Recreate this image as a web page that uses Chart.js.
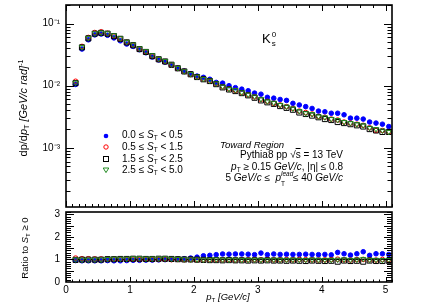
<!DOCTYPE html>
<html><head><meta charset="utf-8">
<script src="https://cdn.jsdelivr.net/npm/chart.js@4.4.1/dist/chart.umd.min.js"></script>
<style>
body{margin:0;background:#fff;width:436px;height:305px;overflow:hidden;position:relative;font-family:"Liberation Sans",Arial,sans-serif;color:#000}
canvas{position:absolute;left:0}
#c1{top:0}
#c2{top:196px}
.t{position:absolute;white-space:nowrap;line-height:1;font-size:10px}
.sb{font-size:65%;vertical-align:-0.35em;line-height:0}
.sp{font-size:65%;vertical-align:0.5em;line-height:0}
.rot{position:absolute;white-space:nowrap;line-height:1;transform:translate(-50%,-50%) rotate(-90deg)}
.lg{position:absolute;width:10px;height:10px}
</style></head>
<body>
<canvas id="c1" width="436" height="212"></canvas>
<canvas id="c2" width="436" height="109"></canvas>

<div class="rot" style="left:23px;top:108px;font-size:11px">dp/d<i>p</i><span class="sb">T</span> <i>[GeV/c rad]</i><span class="sp">-1</span></div>
<div class="rot" style="left:24.5px;top:248px;font-size:9.5px">Ratio to <i>S</i><span class="sb">T</span> ≥ 0</div>
<div class="t" style="left:228px;top:297px;transform:translate(-50%,-50%);font-size:9.5px"><i>p</i><span class="sb">T</span> <i>[GeV/c]</i></div>

<div class="t" style="left:262px;top:32px;font-size:13px">K<span style="display:inline-block;position:relative;width:6px;height:0"><span style="position:absolute;left:1px;top:-12px;font-size:8px">0</span><span style="position:absolute;left:1px;top:-3px;font-size:8px">s</span></span></div>

<svg class="lg" style="left:101px;top:130.5px" viewBox="0 0 10 10"><circle cx="5" cy="5" r="2.3" fill="#0000ff"/></svg>
<svg class="lg" style="left:101px;top:142px" viewBox="0 0 10 10"><circle cx="5" cy="5" r="2.2" fill="none" stroke="#ff0000" stroke-width="1"/></svg>
<svg class="lg" style="left:101px;top:154px" viewBox="0 0 10 10"><rect x="2.5" y="2.5" width="5" height="5" fill="none" stroke="#000" stroke-width="1"/></svg>
<svg class="lg" style="left:101px;top:165px" viewBox="0 0 10 10"><polygon points="2.2,3 7.8,3 5,7.6" fill="none" stroke="#228b22" stroke-width="1"/></svg>
<div class="t" style="left:122px;top:130.3px">0.0 ≤ <i>S</i><span class="sb">T</span> &lt; 0.5</div>
<div class="t" style="left:122px;top:141.8px">0.5 ≤ <i>S</i><span class="sb">T</span> &lt; 1.5</div>
<div class="t" style="left:122px;top:153.6px">1.5 ≤ <i>S</i><span class="sb">T</span> &lt; 2.5</div>
<div class="t" style="left:122px;top:164.8px">2.5 ≤ <i>S</i><span class="sb">T</span> &lt; 5.0</div>

<div class="t" style="left:220px;top:140px;font-size:9.6px"><i>Toward Region</i></div>
<div class="t" style="right:93px;top:149.5px;text-align:right">Pythia8 pp √<span style="text-decoration:overline">s</span> = 13 TeV</div>
<div class="t" style="right:93px;top:161.5px;text-align:right"><i>p</i><span class="sb">T</span> ≥ 0.15 <i>GeV/c</i>, |η| ≤ 0.8</div>
<div class="t" style="right:93px;top:172.5px;text-align:right">5 <i>GeV/c</i> ≤ &nbsp;<i>p</i><span style="display:inline-block;position:relative;width:12px;height:0"><span style="position:absolute;left:0;top:-10px;font-size:6.5px;font-style:italic">lead</span><span style="position:absolute;left:0;top:0px;font-size:6.5px">T</span></span>≤ 40 <i>GeV/c</i></div>

<script>
// ---- data ----
const pt = [0.15,0.25,0.35,0.45,0.55,0.65,0.75,0.85,0.95,1.05,1.15,1.25,1.35,1.45,1.55,1.65,1.75,1.85,1.95,2.05,2.15,2.25,2.35,2.45,2.55,2.65,2.75,2.85,2.95,3.05,3.15,3.25,3.35,3.45,3.55,3.65,3.75,3.85,3.95,4.05,4.15,4.25,4.35,4.45,4.55,4.65,4.75,4.85,4.95,5.05];
const seriesNames = ['0.0 ≤ ST < 0.5','0.5 ≤ ST < 1.5','1.5 ≤ ST < 2.5','2.5 ≤ ST < 5.0'];
const specBlue = [0.0105,0.039,0.055,0.066,0.068,0.065,0.059,0.053,0.047,0.043,0.038,0.034,0.029,0.026,0.024,0.0215,0.019,0.0172,0.0156,0.0143,0.01365,0.0127,0.0113,0.0110,0.0100,0.0093,0.0088,0.0083,0.0076,0.0073,0.0065,0.0063,0.0060,0.0058,0.0052,0.0049,0.0046,0.0043,0.0039,0.0038,0.0036,0.0036,0.0034,0.0030,0.0030,0.0029,0.0026,0.0025,0.0024,0.0022];
const specRed = [0.0118,0.043,0.060,0.072,0.074,0.070,0.063,0.057,0.050,0.045,0.039,0.035,0.030,0.0266,0.0245,0.0215,0.0190,0.0170,0.0152,0.0138,0.0128,0.0118,0.0107,0.0096,0.0089,0.0084,0.0077,0.0071,0.0066,0.0060,0.0056,0.0052,0.0049,0.0046,0.0043,0.0039,0.0037,0.0035,0.0032,0.0031,0.0029,0.0028,0.0026,0.0025,0.0024,0.0023,0.0021,0.0019,0.0019,0.0018];
const specBlack = [0.0110,0.0415,0.058,0.069,0.071,0.069,0.063,0.057,0.050,0.045,0.039,0.035,0.030,0.0267,0.0246,0.0218,0.0191,0.0170,0.0153,0.0138,0.0127,0.0119,0.0106,0.0094,0.0087,0.0082,0.0076,0.0070,0.0064,0.0058,0.0054,0.0051,0.0047,0.0044,0.0041,0.0037,0.0035,0.0033,0.0031,0.0029,0.0028,0.0026,0.0025,0.0024,0.0023,0.0022,0.0020,0.0019,0.0018,0.0018];
const specGreen = [0.0112,0.0420,0.059,0.070,0.072,0.070,0.065,0.058,0.051,0.046,0.040,0.036,0.031,0.0272,0.0250,0.0220,0.0193,0.0171,0.0154,0.0140,0.0129,0.0121,0.0109,0.0097,0.0089,0.0085,0.0078,0.0072,0.0067,0.0061,0.0056,0.0053,0.0049,0.0046,0.0043,0.0039,0.0036,0.0035,0.0032,0.0031,0.0029,0.0028,0.0026,0.0025,0.0024,0.0023,0.0021,0.0020,0.0019,0.0018];
const ratioBlue = [0.95,0.94,0.94,0.94,0.94,0.95,0.94,0.94,0.95,0.96,0.96,0.97,0.97,0.98,0.99,1.00,1.01,1.03,1.06,1.10,1.16,1.18,1.21,1.24,1.23,1.24,1.24,1.23,1.21,1.28,1.21,1.24,1.22,1.23,1.22,1.22,1.23,1.22,1.21,1.22,1.20,1.31,1.25,1.19,1.25,1.34,1.18,1.25,1.25,1.22];
const ratioRed = [1.06,1.03,1.03,1.02,1.02,1.01,1.01,1.00,1.00,1.01,1.00,1.01,1.00,1.00,1.01,0.99,1.00,0.99,0.99,0.98,0.98,0.98,0.99,0.98,0.99,0.97,0.98,0.98,0.99,0.98,0.99,0.98,0.98,0.99,0.98,1.00,0.99,0.98,0.97,0.98,0.99,1.01,0.98,0.97,0.99,1.00,0.98,0.97,1.00,0.99];
const ratioBlack = [0.98,0.99,0.99,0.99,0.99,1.01,1.01,1.02,1.02,1.03,1.03,1.02,1.02,1.03,1.03,1.02,1.01,1.00,1.00,0.99,0.98,0.97,0.97,0.96,0.97,0.96,0.96,0.95,0.96,0.95,0.96,0.95,0.95,0.94,0.95,0.94,0.93,0.95,0.94,0.93,0.94,0.90,0.95,0.93,0.94,0.90,0.95,0.93,0.93,0.94];
const ratioGreen = [1.00,0.99,0.99,1.00,1.00,1.02,1.03,1.03,1.03,1.05,1.05,1.04,1.04,1.04,1.05,1.03,1.02,1.01,1.00,1.00,0.99,0.99,1.00,0.99,0.99,0.99,0.98,0.98,0.99,0.98,0.98,0.99,0.98,0.98,0.99,0.98,0.98,0.99,0.98,0.98,0.98,0.99,1.00,0.98,0.99,1.02,0.98,0.98,0.97,0.98];
const xTickLabels = [0,1,2,3,4,5];
const yTopTickValues = [1e-3,1e-2,1e-1];
const yTopTickLabels = ['10⁻³','10⁻²','10⁻¹'];
const yRatioTickValues = [0,0.5,1,1.5,2,2.5,3];
const yRatioTickLabels = ['0','0.5','1','1.5','2','2.5','3'];
const ratioReference = 1;

// ---- styles ----
const X_MIN = 0, X_MAX = 5.1;
const FONT = "'Liberation Sans', Arial, sans-serif";
const styles = [
  {color:'#0000ff', ps:'circle', r:2.3, fill:true, rot:0, order:4},
  {color:'#ff0000', ps:'circle', r:2.3, fill:false, rot:0, order:3},
  {color:'#000000', ps:'rect', r:3.6, fill:false, rot:0, order:2},
  {color:'#228b22', ps:'triangle', r:3.0, fill:false, rot:180, order:1}
];
function mkSets(arrs){
  return arrs.map((arr,k)=>{
    const s = styles[k];
    return {label:seriesNames[k], data:pt.map((x,i)=>({x:x,y:arr[i]})), showLine:false,
      pointStyle:s.ps, pointRadius:s.r, pointRotation:s.rot, pointBorderWidth:1,
      pointBorderColor:s.color, pointBackgroundColor:s.fill?s.color:'rgba(0,0,0,0)', order:s.order};
  });
}

function drawFrame(chart, cfg){
  const {ctx, chartArea:a} = chart;
  const xs = chart.scales.x, ys = chart.scales.y;
  ctx.save();
  ctx.strokeStyle = '#000';
  ctx.lineWidth = 1;
  ctx.beginPath();
  cfg.xt.forEach(t=>{
    const px = Math.round(xs.getPixelForValue(t.v))+0.5;
    if (px < a.left || px > a.right+1) return;
    if (t.top){ ctx.moveTo(px, a.top); ctx.lineTo(px, a.top + t.top); }
    if (t.bot){ ctx.moveTo(px, a.bottom); ctx.lineTo(px, a.bottom - t.bot); }
  });
  cfg.yt.forEach(t=>{
    const py = Math.round(ys.getPixelForValue(t.v))+0.5;
    if (py < a.top || py > a.bottom) return;
    ctx.moveTo(a.left, py); ctx.lineTo(a.left + t.len, py);
    ctx.moveTo(a.right, py); ctx.lineTo(a.right - t.len, py);
  });
  ctx.stroke();
  ctx.lineWidth = 1.6;
  ctx.strokeRect(Math.round(a.left), Math.round(a.top), Math.round(a.right-a.left), Math.round(a.bottom-a.top));
  ctx.restore();
}
function noPad(s){ s.paddingTop = 0; s.paddingBottom = 0; s.paddingLeft = 0; s.paddingRight = 0; }

// tick lists
const topXT = [];
for (let i=0;i<=51;i++){ const v=i/10; const major=(i%10===0);
  topXT.push({v:v, top: major?6:(i%2===0?3:0), bot: major?6:3}); }
const topYT = [];
for (let d=-4; d<=-1; d++){ for (let m=1;m<=9;m++){ topYT.push({v:m*Math.pow(10,d), len: m===1?8:4.5}); } }
const botXT = [];
for (let i=0;i<=51;i++){ const v=i/10; const major=(i%10===0); botXT.push({v:v, top:0, bot: major?5:2.5}); }
const botYT = [];
for (let i=0;i<=31;i++){ botYT.push({v:i/10, len: (i%5===0)?8:5}); }

const frame1 = {id:'frame1', afterDatasetsDraw(c){ drawFrame(c,{xt:topXT, yt:topYT}); }};
const frame2 = {id:'frame2', afterDatasetsDraw(c){ drawFrame(c,{xt:botXT, yt:botYT}); }};
const gridOff = {display:false, drawTicks:false, tickLength:0};

new Chart(document.getElementById('c1'), {
  type:'scatter',
  data:{datasets: mkSets([specBlue,specRed,specBlack,specGreen])},
  options:{
    responsive:false, animation:false, devicePixelRatio:1,
    layout:{padding:{left:0,right:44,top:4,bottom:0}},
    plugins:{legend:{display:false}, tooltip:{enabled:false}},
    scales:{
      x:{type:'linear', min:X_MIN, max:X_MAX, display:false},
      y:{type:'logarithmic', min:1.11e-4, max:0.2,
         grid:gridOff, border:{display:false},
         afterFit:(s)=>{ s.width = 66; noPad(s); },
         afterBuildTicks:(s)=>{ s.ticks = yTopTickValues.map(v=>({value:v})); },
         ticks:{ callback:(v)=>yTopTickLabels[yTopTickValues.indexOf(v)] ?? '', color:'#000', padding:6,
                 font:{family:FONT, size:10} } }
    }
  },
  plugins:[frame1]
});

const refSet = {data:[{x:X_MIN,y:ratioReference},{x:X_MAX,y:ratioReference}], showLine:true, borderColor:'#000',
  borderWidth:1, pointRadius:0, order:10};
new Chart(document.getElementById('c2'), {
  type:'scatter',
  data:{datasets: [refSet].concat(mkSets([ratioBlue,ratioRed,ratioBlack,ratioGreen]))},
  options:{
    responsive:false, animation:false, devicePixelRatio:1,
    layout:{padding:{left:0,right:44,top:16,bottom:0}},
    plugins:{legend:{display:false}, tooltip:{enabled:false}},
    scales:{
      x:{type:'linear', min:X_MIN, max:X_MAX, grid:gridOff, border:{display:false},
         afterFit:(s)=>{ s.height = 23; noPad(s); },
         afterBuildTicks:(s)=>{ s.ticks = xTickLabels.map(v=>({value:v})); },
         ticks:{ color:'#000', padding:2, maxRotation:0, font:{family:FONT, size:10}, callback:(v)=>String(v) } },
      y:{type:'linear', min:0, max:3.1, grid:gridOff, border:{display:false},
         afterFit:(s)=>{ s.width = 66; noPad(s); },
         afterBuildTicks:(s)=>{ s.ticks = yRatioTickValues.map(v=>({value:v})); },
         ticks:{ callback:(v)=>yRatioTickLabels[yRatioTickValues.indexOf(v)] ?? '', color:'#000', padding:6,
                 font:{family:FONT, size:10} } }
    }
  },
  plugins:[frame2]
});
</script>
</body></html>
